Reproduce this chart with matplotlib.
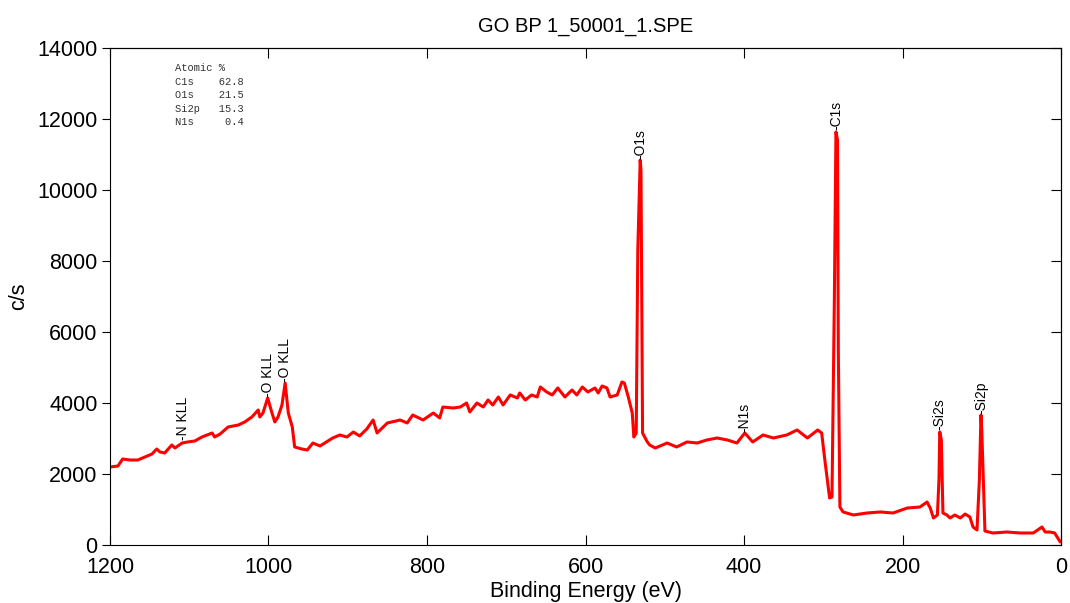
import matplotlib
matplotlib.use("Agg")
import matplotlib.pyplot as plt

plt.rcParams['font.family'] = ['Liberation Sans', 'DejaVu Sans']

# survey spectrum: binding energy (eV) and counts (c/s)
be = [1200, 1190, 1184, 1175, 1165, 1156, 1147, 1141, 1137, 1131,
      1122, 1118, 1109, 1102, 1093, 1084, 1071, 1068, 1061, 1051,
      1038, 1030, 1021, 1013, 1011, 1007, 1001, 996, 992, 988,
      983, 979, 975, 970, 967, 958, 951, 944, 935, 919,
      910, 901, 893, 885, 876, 868, 863, 850, 834, 825,
      818, 805, 792, 784, 780, 767, 758, 750, 746, 737,
      729, 723, 717, 710, 704, 695, 686, 683, 676, 668,
      661, 657, 649, 642, 635, 626, 617, 611, 604, 597,
      588, 584, 579, 573, 569, 560, 554, 551, 546, 541,
      539, 536, 534, 531, 530, 529, 528, 522, 519, 512,
      497, 485, 472, 459, 447, 434, 421, 409, 399, 389,
      376, 363, 346, 333, 320, 307, 302, 298, 292, 289,
      286, 284, 282, 281, 279, 275, 262, 245, 228, 212,
      194, 178, 169, 165, 161, 156, 154, 153, 151, 149,
      144, 140, 134, 127, 121, 115, 111, 106, 103, 101,
      100, 96, 86, 68, 52, 35, 24, 20, 14, 8, 1, 0]
cps = [2197, 2225, 2423, 2394, 2394, 2479, 2563, 2704, 2620, 2592,
       2817, 2732, 2873, 2902, 2930, 3042, 3155, 3042, 3127, 3324,
       3380, 3465, 3606, 3803, 3606, 3718, 4141, 3747, 3465, 3606,
       3944, 4563, 3718, 3324, 2761, 2704, 2676, 2873, 2789, 3014,
       3099, 3042, 3183, 3071, 3268, 3521, 3155, 3437, 3521, 3437,
       3662, 3521, 3718, 3578, 3887, 3859, 3887, 4000, 3747, 4000,
       3887, 4085, 3944, 4169, 3944, 4226, 4141, 4282, 4085, 4226,
       4169, 4451, 4310, 4226, 4423, 4169, 4366, 4226, 4451, 4310,
       4423, 4282, 4479, 4423, 4169, 4226, 4592, 4563, 4169, 3718,
       3042, 3155, 8310, 10845, 10564, 6902, 3155, 2902, 2817, 2732,
       2873, 2761, 2902, 2873, 2958, 3014, 2958, 2873, 3155, 2902,
       3099, 3014, 3099, 3240, 3014, 3240, 3155, 2394, 1324, 1352,
       6902, 11634, 11409, 5493, 1070, 930, 845, 901, 930, 901,
       1042, 1070, 1211, 1042, 761, 845, 1831, 3183, 2958, 901,
       845, 761, 845, 761, 873, 789, 507, 423, 1831, 3662,
       3240, 394, 338, 366, 338, 338, 507, 366, 366, 338, 85, 100]

# peak labels
peak_names = ["N KLL", "O KLL", "O KLL", "O1s", "N1s", "C1s", "Si2s", "Si2p"]
peak_be = [1108, 1001, 979, 531, 399, 284, 153, 101]
peak_cps = [2950, 4160, 4590, 10880, 3190, 11680, 3230, 3700]

atomic_names = ["C1s", "O1s", "Si2p", "N1s"]
atomic_pct = [62.8, 21.5, 15.3, 0.4]

fig = plt.figure(figsize=(10.7, 6.03), dpi=100)
ax = fig.add_axes([0.1028, 0.0962, 0.8888, 0.8242])

ax.plot(be, cps, color='red', lw=2.2)

for name, x, y in zip(peak_names, peak_be, peak_cps):
    ax.text(x, y, "-" + name, rotation=90, ha='center', va='bottom',
            fontsize=10, color='black')

table = "Atomic %\n" + "\n".join(
    "{:<5s}{:6.1f}".format(n, p) for n, p in zip(atomic_names, atomic_pct))
ax.text(0.068, 0.97, table, transform=ax.transAxes, ha='left', va='top',
        family='Liberation Mono', fontsize=7.5, color='#333333',
        linespacing=1.45)

ax.set_xlim(1200, 0)
ax.set_ylim(0, 14000)
ax.set_xticks([1200, 1000, 800, 600, 400, 200, 0])
ax.set_yticks(range(0, 14001, 2000))
ax.tick_params(axis='y', direction='out', length=6, labelsize=15.5, pad=3)
ax.tick_params(axis='x', direction='in', length=7, labelsize=15.5, pad=9)

sec_y = ax.secondary_yaxis('right')
sec_y.set_yticks(range(0, 14001, 2000))
sec_y.tick_params(direction='in', length=7, labelright=False)
sec_x = ax.secondary_xaxis('top')
sec_x.set_xticks([1200, 1000, 800, 600, 400, 200, 0])
sec_x.tick_params(direction='in', length=7, labeltop=False)

ax.set_title("GO BP 1_50001_1.SPE", fontsize=14.5, pad=12)
ax.set_xlabel("Binding Energy (eV)", fontsize=15.5, labelpad=2)
ax.set_ylabel("c/s", fontsize=15.5, labelpad=6)

fig.savefig("out.png", dpi=100)
